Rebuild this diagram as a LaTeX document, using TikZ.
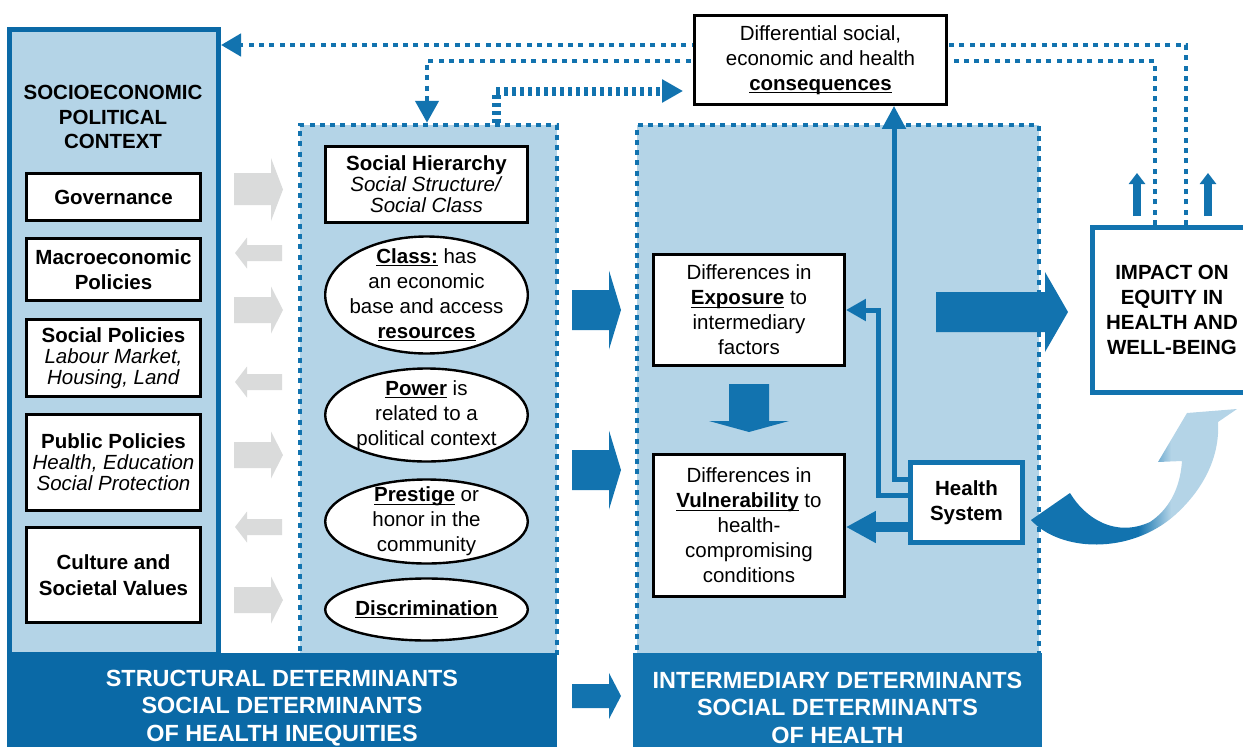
\documentclass[tikz,border=0pt]{standalone}
\usepackage{fontspec}
\setmainfont{Liberation Sans}
\usetikzlibrary{arrows.meta,shapes.geometric,calc}
\definecolor{blueD}{HTML}{0A69A6}
\definecolor{blueM}{HTML}{1273AF}
\definecolor{blueL}{HTML}{B4D4E7}
\definecolor{grayA}{HTML}{DADBDB}
\pgfdeclarelayer{bg}
\pgfsetlayers{bg,main}
\pgfdeclarehorizontalshading{curvsh}{100bp}{color(0bp)=(blueM); color(51bp)=(blueM); color(59bp)=(blueL); color(100bp)=(blueL)}
\newsavebox{\ubox}
\newcommand{\ubf}[1]{\sbox{\ubox}{\bfseries #1}\rlap{\rule[-3pt]{\wd\ubox}{1.3pt}}\usebox{\ubox}}

\begin{document}
\begin{tikzpicture}[x=1pt,y=-1pt,
    txt/.style={font=\fontsize{20.5}{25}\selectfont,align=center,inner sep=0pt},
    tight/.style={font=\fontsize{20.5}{21}\selectfont},
    bold/.style={font=\bfseries\fontsize{20.5}{25}\selectfont},
    wbox/.style={txt,draw=black,line width=2.8pt,fill=white},
    lbox/.style={wbox,minimum width=174pt},
    hbox/.style={txt,bold,draw=blueM,line width=5pt,fill=white},
    oval/.style={wbox,ellipse,line width=2.4pt,inner sep=-30pt,minimum width=202.6pt},
    dotline/.style={draw=blueM,line width=4.5pt,dash pattern=on 5pt off 5.3pt},
    area/.style={dotline,fill=blueL,inner sep=0pt,minimum height=530.5pt},
    bar/.style={text=white,align=center,font=\bfseries\fontsize{23.4}{27.5}\selectfont,minimum height=109pt,anchor=north,inner sep=0pt},
    grayarr/.style={fill=grayA},
    bluearr/.style={fill=blueM},
    link/.style={draw=blueM,line width=5pt}]
    \useasboundingbox (0,0) rectangle (1243,747);

    \node[draw=blueD,line width=5pt,fill=blueL,minimum width=209pt,minimum height=625pt,inner sep=0pt] (ctx) at (114,342) {};
    \node[area,minimum width=257pt] (struct) at (428.5,390.25) {};
    \node[area,minimum width=402pt] (inter) at (838,390.25) {};
    \node[bar,fill=blueD,minimum width=550pt] (sbar) at (282,653) {STRUCTURAL DETERMINANTS\\SOCIAL DETERMINANTS\\OF HEALTH INEQUITIES};
    \node[bar,fill=blueM,minimum width=409pt] (ibar) at (837.5,653) {INTERMEDIARY DETERMINANTS\\SOCIAL DETERMINANTS\\OF HEALTH};

    \node[txt,font=\bfseries\fontsize{20.5}{24.5}\selectfont] (ctxtitle) at (113,117) {SOCIOECONOMIC\\POLITICAL\\CONTEXT};
    \node[lbox,bold,minimum height=47pt] (gov) at (113.5,197) {Governance};
    \node[lbox,bold,minimum height=62pt] (macro) at (113.5,269.5) {Macroeconomic\\Policies};
    \node[lbox,tight,minimum height=77pt] (socpol) at (113.5,358) {\textbf{Social Policies}\\\textit{Labour Market,}\\\textit{Housing, Land}};
    \node[lbox,tight,minimum height=96pt] (pubpol) at (113.5,462.5) {\textbf{Public Policies}\\\textit{Health, Education}\\\textit{Social Protection}};
    \node[lbox,bold,minimum height=95pt,font=\bfseries\fontsize{20.5}{26}\selectfont] (culture) at (113.5,575) {Culture and\\Societal Values};

    \node[wbox,tight,minimum width=202pt,minimum height=76pt] (hier) at (426.5,184.5) {\textbf{Social Hierarchy}\\\textit{Social Structure/}\\\textit{Social Class}};
    \node[oval,minimum height=117pt] (cls) at (426.5,295) {\ubf{Class:} has\\an economic\\base and access\\\ubf{resources}};
    \node[oval,minimum height=93pt] (pow) at (426.5,415) {\ubf{Power} is\\related to a\\political context};
    \node[oval,minimum height=84pt] (pres) at (426.5,521.5) {\ubf{Prestige} or\\honor in the\\community};
    \node[oval,minimum height=62pt] (disc) at (426.5,609.5) {\ubf{Discrimination}};

    \node[wbox,minimum width=191pt,minimum height=111pt] (expo) at (749,310) {Differences in\\\ubf{Exposure} to\\intermediary\\factors};
    \node[wbox,minimum width=191pt,minimum height=142pt] (vuln) at (749,525.5) {Differences in\\\ubf{Vulnerability} to\\health-\\compromising\\conditions};
    \node[hbox,minimum width=112pt,minimum height=80pt] (hs) at (966.5,502.5) {Health\\System};
    \node[hbox,minimum width=159pt,minimum height=165pt] (imp) at (1172,310) {IMPACT ON\\EQUITY IN\\HEALTH AND\\WELL-BEING};
    \node[wbox,minimum width=252pt,minimum height=89pt] (cons) at (820.5,60) {Differential social,\\economic and health\\\ubf{consequences}};

    \fill[grayarr] (234,173) -- (271,173) -- (271,158) -- (283,189.5) -- (271,221) -- (271,205) -- (234,205) -- cycle;
    \foreach \yy in {310,455,600}
        \fill[grayarr] (234,\yy-13) -- (271,\yy-13) -- (271,\yy-23.5) -- (283,\yy) -- (271,\yy+23.5) -- (271,\yy+13) -- (234,\yy+13) -- cycle;
    \foreach \yy in {253,382,527}
        \fill[grayarr] (282,\yy-8) -- (247,\yy-8) -- (247,\yy-15.5) -- (235,\yy) -- (247,\yy+15.5) -- (247,\yy+8) -- (282,\yy+8) -- cycle;

    \foreach \yy in {310,470}
        \fill[bluearr] (572,\yy-20) -- (609,\yy-20) -- (609,\yy-39.5) -- (621,\yy) -- (609,\yy+39.5) -- (609,\yy+20) -- (572,\yy+20) -- cycle;
    \fill[bluearr] (572,684) -- (609,684) -- (609,673) -- (621,696) -- (609,719) -- (609,708) -- (572,708) -- cycle;
    \fill[bluearr] (936,292) -- (1045,292) -- (1045,272) -- (1068,312) -- (1045,352) -- (1045,332) -- (936,332) -- cycle;
    \fill[bluearr] (729,384) -- (769,384) -- (769,421) -- (789,421) -- (749,432) -- (709,421) -- (729,421) -- cycle;

    \coordinate (upx) at (894,300);
    \coordinate (expin) at (878.5,310);
    \draw[link,-{Triangle[length=23pt,width=23pt]}] ([yshift=23.5pt]hs.west) -| (cons.south -| upx);
    \draw[link,-{Triangle[length=20pt,width=21pt]}] ([yshift=7.5pt]hs.west) -| (expin) -- (expo.east);
    \draw[draw=blueM,line width=10pt,-{Triangle[length=30pt,width=30pt]}] ([yshift=-24.5pt]hs.west) -- ([yshift=-24.5pt]hs.west -| vuln.east);

    \coordinate (upA) at (1137,173);
    \coordinate (upB) at (1208,173);
    \draw[draw=blueM,line width=8pt,-{Triangle[length=11pt,width=16pt]},shorten <=9pt] (imp.north -| upA) -- (upA);
    \draw[draw=blueM,line width=8pt,-{Triangle[length=11pt,width=16pt]},shorten <=9pt] (imp.north -| upB) -- (upB);

    \shade[shading=curvsh] (1031,520) .. controls (1060,552) and (1130,555) .. (1175,515) .. controls (1205,488) and (1220,455) .. (1218,422) -- (1237,409) -- (1187,413) -- (1158,462) -- (1182,461) .. controls (1180,490) and (1168,510) .. (1150,522) .. controls (1115,538) and (1085,518) .. (1070,493) -- cycle;

    \coordinate (fbA) at (1186,45);
    \coordinate (fbB) at (1155,61);
    \coordinate (fbC) at (427,61);
    \coordinate (fbD) at (496,91);
    \begin{pgfonlayer}{bg}
        \draw[dotline,-{Triangle[length=20pt,width=22pt]}] (imp.north -| fbA) -- (fbA) -- (fbA -| ctx.east);
        \draw[dotline,-{Triangle[length=22pt,width=23pt]}] (imp.north -| fbB) -- (fbB) -- (fbC) -- (fbC |- struct.north);
        \draw[dotline,line width=9pt,dash pattern=on 3.5pt off 4.5pt,-{Triangle[length=21pt,width=22pt]},shorten >=10pt] (struct.north -| fbD) -- (fbD) -- (fbD -| cons.west);
    \end{pgfonlayer}
\end{tikzpicture}
\end{document}
